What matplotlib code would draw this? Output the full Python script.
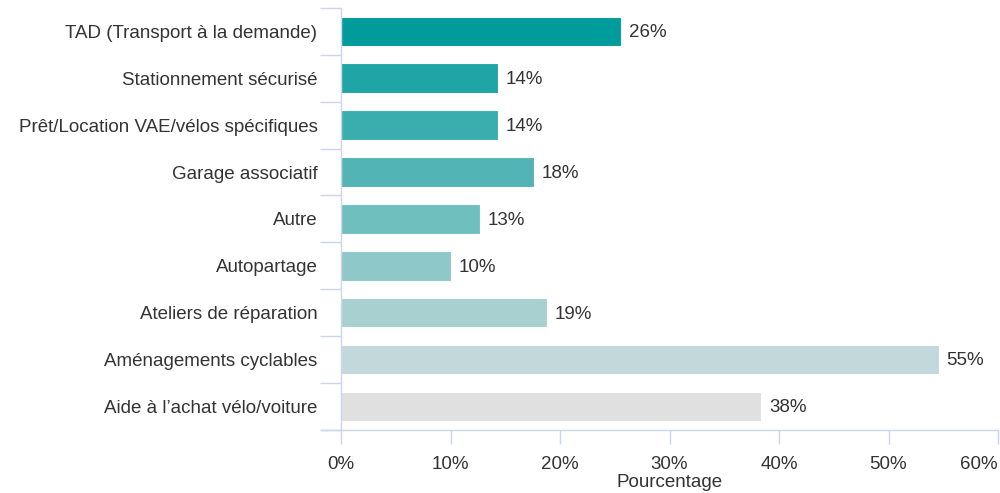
import numpy as np
import matplotlib
matplotlib.use("Agg")
import matplotlib.pyplot as plt

plt.rcParams["font.family"] = ["Liberation Sans", "DejaVu Sans"]

# categories top -> bottom
categories = [
    "TAD (Transport à la demande)",
    "Stationnement sécurisé",
    "Prêt/Location VAE/vélos spécifiques",
    "Garage associatif",
    "Autre",
    "Autopartage",
    "Ateliers de réparation",
    "Aménagements cyclables",
    "Aide à l\u2019achat vélo/voiture",
]
values = [25.6, 14.3, 14.3, 17.6, 12.7, 10.0, 18.8, 54.6, 38.4]
colors = [
    "#009b9b", "#1fa5a5", "#3aaeae", "#52b4b4", "#70bfbf",
    "#8ec8c8", "#a8d0d0", "#c3d8da", "#e0e0e0",
]
xticks = [0, 10, 20, 30, 40, 50, 60]

axis_col = "#ccd6eb"
text_col = "#333333"
fs = 13.5

fig = plt.figure(figsize=(10, 4.93), dpi=100)
ax = fig.add_axes([0.341, 0.128, 0.657, 0.856])

y = np.arange(len(categories))
ax.barh(y, values, height=0.63, color=colors, edgecolor="white", linewidth=0.8)

for yi, v in zip(y, values):
    ax.text(v + 0.7, yi + 0.03, f"{round(v):d}%", va="center", ha="left",
            fontsize=fs, color=text_col)

ax.set_xlim(0, 60)
ax.set_ylim(len(categories) - 0.5, -0.5)
ax.set_xticks(xticks)
ax.set_xticklabels([f"{t}%" for t in xticks], fontsize=fs, color=text_col)
# last label kept inside the figure, as in the original
ax.get_xticklabels()[-1].set_ha("right")
ax.set_yticks(y)
ax.set_yticklabels(categories, fontsize=fs, color=text_col)
ax.set_yticks(np.arange(-0.5, len(categories), 1.0), minor=True)

ax.tick_params(axis="y", which="major", length=0, pad=17)
ax.tick_params(axis="y", which="minor", length=15, color=axis_col, width=1)
ax.tick_params(axis="x", which="major", length=10, color=axis_col, width=1, pad=9)

ax.set_xlabel("Pourcentage", fontsize=fs, color=text_col, labelpad=0.5)

for s in ["top", "right"]:
    ax.spines[s].set_visible(False)
ax.spines["left"].set_color(axis_col)
ax.spines["bottom"].set_color(axis_col)
ax.spines["left"].set_linewidth(1)
ax.spines["bottom"].set_linewidth(1)
# the baseline runs a little past the category axis on the left
ax.plot([-0.03, 0], [0, 0], transform=ax.transAxes, color=axis_col,
        linewidth=1, clip_on=False)

fig.savefig("out.png", dpi=100)
